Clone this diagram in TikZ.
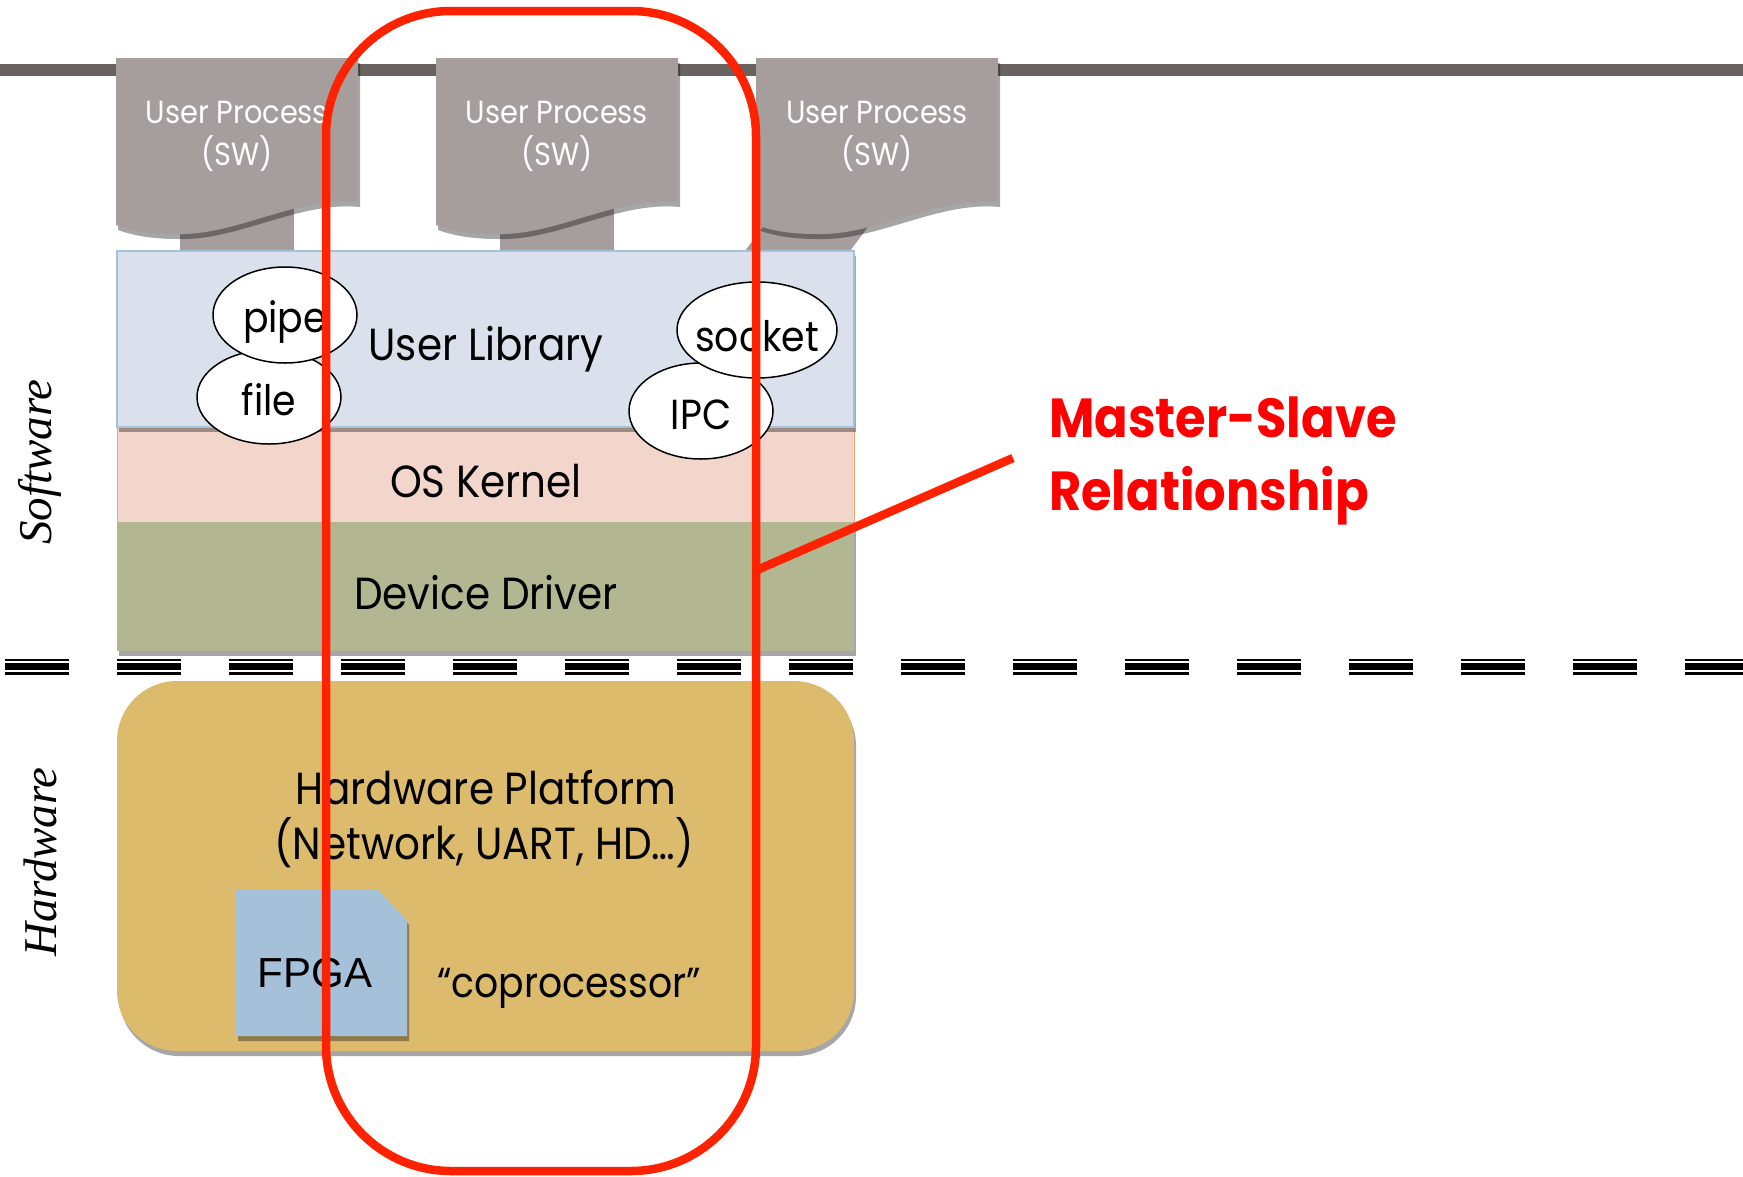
\documentclass[tikz,border=0pt]{standalone}
\usepackage{fontspec}
\setmainfont{Poppins}[FakeStretch=0.9]
\newfontfamily\arialf{Liberation Sans}
\newfontfamily\timesf{Liberation Serif}
\usetikzlibrary{shadows,shapes.geometric}
\definecolor{bargray}{HTML}{686261}
\definecolor{procgray}{HTML}{A69E9D}
\definecolor{libfill}{HTML}{DAE1EC}
\definecolor{libline}{HTML}{A6C2DA}
\definecolor{kerfill}{HTML}{F2D6CC}
\definecolor{kerline}{HTML}{E8A77A}
\definecolor{drvfill}{HTML}{B2B792}
\definecolor{hwfill}{HTML}{DDBB6D}
\definecolor{fpgafill}{HTML}{A5C1D9}
\definecolor{loopred}{HTML}{FF2200}
\definecolor{txtred}{HTML}{FF0000}
\tikzset{
  sh/.style={drop shadow={shadow xshift=2pt, shadow yshift=-5pt, fill=black, opacity=0.35}},
  proctext/.style={text=white, align=center, font=\fontsize{32}{42}\selectfont, inner sep=0pt},
  laytext/.style={font=\fontsize{45}{52}\selectfont, inner sep=0pt},
  bubble/.style={ellipse, draw=black, line width=1.5pt, fill=white, inner sep=0pt},
  bubtext/.style={font=\fontsize{42}{46}\selectfont, inner sep=0pt},
  sidelabel/.style={rotate=90, font=\timesf\itshape\fontsize{47}{50}\selectfont, inner sep=0pt},
  redloop/.style={draw=loopred, line width=8.5pt, rounded corners=125pt, inner sep=0pt},
  redtext/.style={text=txtred, font=\bfseries\fontsize{55}{73}\selectfont, inner sep=0pt, anchor=base west},
  procshape/.pic={
    \fill[procgray, sh] (0,0) -- (242,0) -- (242,144)
      .. controls (180,138) and (120,178) .. (60,176)
      .. controls (32,176) and (14,172) .. (0,167) -- cycle;
  }
}
\begin{document}
\begin{tikzpicture}[x=1pt, y=-1pt]
\useasboundingbox (0,0) rectangle (1743,1176);
% top bar
\fill[bargray] (0,64) rectangle (1743,76);
% stems
\fill[procgray] (180,200) rectangle (294,251);
\fill[procgray] (500,200) rectangle (614,251);
\fill[procgray] (745,251) -- (850,251) -- (888,200) -- (783,200) -- cycle;
% process boxes
\pic at (116,58) {procshape};
\pic at (436,58) {procshape};
\pic at (756,58) {procshape};
\node[proctext] (p1) at (237,136) {User Process\\(SW)};
\node[proctext] (p2) at (557,136) {User Process\\(SW)};
\node[proctext] (p3) at (877,136) {User Process\\(SW)};
% layers
\node[fill=drvfill, sh, minimum width=737pt, minimum height=129pt, inner sep=0pt] (drv) at (485.5,586.5) {};
\node[fill=kerfill, draw=kerline, line width=1pt, minimum width=737pt, minimum height=95pt, inner sep=0pt] (ker) at (485.5,474.5) {};
\fill[drvfill] (117.5,522) rectangle (853.5,530);
\node[fill=libfill, draw=libline, line width=2pt, sh, minimum width=737pt, minimum height=176pt, inner sep=0pt] (lib) at (485.5,339) {};
\node[laytext] (libt) at (486,349) {User Library};
\node[laytext] (kert) at (486,481) {OS Kernel};
\node[laytext] (drvt) at (486,593) {Device Driver};
% bubbles
\node[bubble, minimum width=144pt, minimum height=94pt] (file) at (269,397) {};
\node[bubtext] (filet) at ([yshift=-3pt]file.center) {file};
\node[bubble, minimum width=144pt, minimum height=96pt] (pipe) at (285,315) {};
\node[bubtext] (pipet) at ([yshift=-7pt]pipe.center) {pipe};
\node[bubble, minimum width=144pt, minimum height=96pt] (ipc) at (701,411) {};
\node[bubtext] (ipct) at ([yshift=-4pt]ipc.center) {IPC};
\node[bubble, minimum width=160pt, minimum height=96pt] (sock) at (757,330) {};
\node[bubtext] (sockt) at ([yshift=-6pt]sock.center) {socket};
% separator
\foreach \i in {0,...,15}{
  \fill[black] (5+112*\i,659) rectangle +(64,16);
  \fill[white] (5+112*\i,661.3) rectangle +(64,2);
  \fill[white] (5+112*\i,669.7) rectangle +(64,2);
}
% hardware
\node[fill=hwfill, sh, rounded corners=60pt, minimum width=737pt, minimum height=370pt, inner sep=0pt] (hw) at (485.5,866) {};
\node[laytext, align=center] (hwt1) at (486,787) {Hardware Platform};
\node[laytext, align=center] (hwt2) at (484,843) {(Network, UART, HD…)};
\fill[fpgafill, sh] (236,890) -- (378,890) -- (407,920) -- (407,1036) -- (236,1036) -- cycle;
\node[font=\arialf\fontsize{42}{46}\selectfont, inner sep=0pt] (fpga) at (315,973) {FPGA};
\node[font=\fontsize{42}{46}\selectfont, inner sep=0pt] (copr) at (569,988) {“coprocessor”};
% side labels
\node[sidelabel] (sw) at (40,462) {Software};
\node[sidelabel] (hwl) at (40,862) {Hardware};
% master-slave loop
\node[redloop, minimum width=430pt, minimum height=1160pt] (ms) at (541,591) {};
\coordinate (msstart) at (757,570);
\coordinate (msend) at (1013,458);
\draw[loopred, line width=8.5pt] (msstart) -- (msend);
\node[redtext] (mst1) at (1049,437) {Master-Slave};
\node[redtext] (mst2) at (1049,510) {Relationship};
\end{tikzpicture}
\end{document}
